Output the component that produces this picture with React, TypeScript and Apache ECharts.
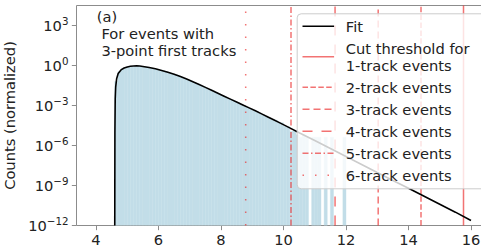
import React, { useEffect, useRef } from 'react';
import * as echarts from 'echarts';

// ---------- data ----------
const xTicks = [4, 6, 8, 10, 12, 14, 16];
const yTickExponents = [-12, -9, -6, -3, 0, 3];

const binWidth = 0.1;
const histBinStart = [
  4.6, 4.7, 4.8, 4.9, 5.0, 5.1, 5.2, 5.3, 5.4, 5.5, 5.6, 5.7, 5.8, 5.9,
  6.0, 6.1, 6.2, 6.3, 6.4, 6.5, 6.6, 6.7, 6.8, 6.9, 7.0, 7.1, 7.2, 7.3,
  7.4, 7.5, 7.6, 7.7, 7.8, 7.9, 8.0, 8.1, 8.2, 8.3, 8.4, 8.5, 8.6, 8.7,
  8.8, 8.9, 9.0, 9.1, 9.2, 9.3, 9.4, 9.5, 9.6, 9.7, 9.8, 9.9, 10.0, 10.1,
  10.2, 10.3, 10.4, 10.5, 10.6, 10.7, 10.9, 11.0, 11.1, 11.3, 11.5, 11.9,
];
// log10 of normalized counts per bin
const histLog10 = [
  -1.2, -0.47, -0.25, -0.15, -0.08, -0.05, -0.035, -0.035, -0.06, -0.09, -0.13, -0.18, -0.23, -0.28,
  -0.34, -0.4, -0.47, -0.54, -0.61, -0.69, -0.78, -0.87, -0.97, -1.07, -1.17, -1.27, -1.38, -1.48,
  -1.59, -1.7, -1.81, -1.92, -2.03, -2.14, -2.25, -2.36, -2.47, -2.58, -2.69, -2.8, -2.91, -3.02,
  -3.13, -3.24, -3.35, -3.46, -3.57, -3.69, -3.8, -3.92, -4.03, -4.1, -4.25, -4.3, -4.55, -4.6,
  -4.95, -4.9, -5.2, -5.38, -5.2, -5.38, -5.38, -5.38, -5.38, -5.38, -5.38, -5.38,
];

const fitX = [
  4.6, 4.605, 4.615, 4.63, 4.66, 4.71, 4.8, 4.9, 5.0, 5.1, 5.2, 5.3, 5.4, 5.5, 5.7, 5.9,
  6.1, 6.3, 6.5, 6.7, 6.9, 7.1, 7.3, 7.5, 7.7, 7.9, 8.1, 8.3, 8.5, 8.7, 8.9, 9.1, 9.3,
  9.5, 9.7, 9.9, 10.2, 10.5, 11.0, 11.5, 12.0, 12.5, 13.0, 13.5, 14.0, 14.5, 15.0, 15.5, 16.0,
];
const fitLog10 = [
  -12, -5, -2.5, -1.6, -1.0, -0.6, -0.33, -0.19, -0.11, -0.06, -0.04, -0.03, -0.04, -0.07, -0.15, -0.25,
  -0.37, -0.5, -0.65, -0.83, -1.02, -1.22, -1.43, -1.64, -1.86, -2.08, -2.3, -2.52, -2.74, -2.96, -3.18, -3.4, -3.63,
  -3.86, -4.09, -4.32, -4.68, -5.04, -5.63, -6.23, -6.83, -7.43, -8.03, -8.62, -9.21, -9.8, -10.4, -11.0, -11.62,
];

const thresholdNames = [
  'Cut threshold for\n1-track events',
  '2-track events',
  '3-track events',
  '4-track events',
  '5-track events',
  '6-track events',
];
const thresholdX = [15.76, 14.4, 13.03, 11.65, 10.24, 8.79];

// ---------- styles ----------
const thresholdDash: (string | number[])[] = [
  'solid',
  [5.5, 2.4],
  [7, 4],
  [10, 9],
  [6, 2.5, 1.5, 2.5],
  [1.5, 11],
];
const FONT = 'DejaVu Sans';
const FS = 14.67;
const RED = 'rgba(235, 40, 40, 0.65)';
const SPINE = '#8c8c8c';
const TXT = '#222222';
const BAR = '#c2dde8';
const Y_MIN = 1e-12;
const Y_MAX = Math.pow(10, 4.5);

function buildOption(): any {
  const histData = histBinStart.map((s, i) => [s, s + binWidth, Math.pow(10, histLog10[i])]);
  const fitData = fitX.map((x, i) => [x, Math.pow(10, fitLog10[i])]);

  const thresholdSeries = thresholdX.map((x, i) => ({
    name: thresholdNames[i],
    type: 'line',
    data: [
      [x, Y_MIN],
      [x, Y_MAX],
    ],
    symbol: 'none',
    silent: true,
    z: 2,
    lineStyle: { color: RED, width: 1.5, type: thresholdDash[i] },
  }));

  const sup = (e: number) => (e < 0 ? '\u2212' + Math.abs(e) : String(e));

  return {
    animation: false,
    backgroundColor: '#ffffff',
    grid: {
      left: 76.5,
      top: 5.5,
      right: -5,
      bottom: 20.5,
      show: true,
      borderColor: SPINE,
      borderWidth: 1,
      containLabel: false,
      outerBoundsMode: 'none',
    },
    xAxis: {
      type: 'value',
      min: 3.376,
      max: 16.48,
      splitLine: { show: false },
      axisLine: { show: false },
      axisTick: { show: true, customValues: xTicks, length: 4.67, lineStyle: { color: SPINE, width: 1 } },
      axisLabel: {
        customValues: xTicks,
        margin: 6,
        fontFamily: FONT,
        fontSize: FS,
        color: TXT,
        formatter: (v: number) => String(v),
      },
    },
    yAxis: {
      type: 'log',
      logBase: 10,
      min: Y_MIN,
      max: Y_MAX,
      name: 'Counts (normalized)',
      nameLocation: 'middle',
      nameGap: 44,
      nameTextStyle: { fontFamily: FONT, fontSize: FS, color: TXT },
      splitLine: { show: false },
      minorTick: { show: false },
      axisLine: { show: false },
      axisTick: {
        show: true,
        customValues: yTickExponents.map((e) => Math.pow(10, e)),
        length: 4.67,
        lineStyle: { color: SPINE, width: 1 },
      },
      axisLabel: {
        customValues: yTickExponents.map((e) => Math.pow(10, e)),
        margin: 8,
        formatter: (v: number) => `{b|10}{s|${sup(Math.round(Math.log10(v)))}}`,
        rich: {
          b: { fontFamily: FONT, fontSize: FS, color: TXT, lineHeight: 15, verticalAlign: 'bottom' },
          s: {
            fontFamily: FONT,
            fontSize: 10.3,
            color: TXT,
            lineHeight: 11,
            padding: [0, 0, 7, 0],
            verticalAlign: 'bottom',
          },
        },
      },
    },
    legend: {
      orient: 'vertical',
      left: 297,
      top: 13.3,
      z: 20,
      padding: [4.5, 30, 5, 4.7],
      itemWidth: 31.6,
      itemHeight: 14,
      itemGap: 5,
      selectedMode: false,
      backgroundColor: 'transparent',
      borderWidth: 0,
      textStyle: { fontFamily: FONT, fontSize: FS, lineHeight: 17, color: TXT, padding: [0, 0, 0, 6.7] },
      data: [
        { name: 'Fit', itemStyle: { opacity: 0 }, lineStyle: { color: '#000', width: 1.6 } },
        ...thresholdNames.map((n, i) => ({
          name: n,
          itemStyle: { opacity: 0 },
          lineStyle: { color: RED, width: 1.5, type: thresholdDash[i] },
        })),
      ],
    },
    graphic: [
      {
        type: 'rect',
        left: 296.7,
        top: 13.3,
        z: 15,
        shape: { width: 200, height: 175, r: 4 },
        style: { fill: 'rgba(255,255,255,0.8)', stroke: '#cccccc', lineWidth: 1 },
      },
      {
        type: 'text',
        left: 96.7,
        top: 9,
        z: 16,
        style: { text: '(a)', fontFamily: FONT, fontSize: FS, fill: TXT },
      },
      {
        type: 'text',
        left: 101.4,
        top: 25.5,
        z: 16,
        style: {
          text: 'For events with\n3-point first tracks',
          fontFamily: FONT,
          fontSize: FS,
          lineHeight: 16.6,
          fill: TXT,
        },
      },
    ],
    series: [
      {
        name: 'hist',
        type: 'custom',
        clip: true,
        silent: true,
        z: 1,
        encode: { x: [0, 1], y: 2 },
        data: histData,
        renderItem: (params: any, api: any) => {
          const x0 = api.value(0);
          const x1 = api.value(1);
          const v = api.value(2);
          const p0 = api.coord([x0, v]);
          const p1 = api.coord([x1, Y_MIN]);
          return {
            type: 'rect',
            shape: { x: p0[0], y: p0[1], width: p1[0] - p0[0], height: p1[1] - p0[1] },
            style: { fill: BAR, stroke: BAR, lineWidth: 0.4 },
          };
        },
      },
      {
        name: 'Fit',
        type: 'line',
        data: fitData,
        symbol: 'none',
        silent: true,
        z: 3,
        clip: true,
        lineStyle: { color: '#000000', width: 1.6 },
      },
      ...thresholdSeries,
    ],
  };
}

export default function App() {
  const ref = useRef<HTMLDivElement>(null);
  useEffect(() => {
    document.body.style.margin = '0';
    const chart = echarts.init(ref.current as HTMLDivElement, null, { renderer: 'svg', width: 481, height: 246 });
    chart.setOption(buildOption());
    return () => chart.dispose();
  }, []);
  return (
    <div
      ref={ref}
      style={{ position: 'fixed', left: 0, top: 0, width: 481, height: 246, background: '#ffffff' }}
    />
  );
}
